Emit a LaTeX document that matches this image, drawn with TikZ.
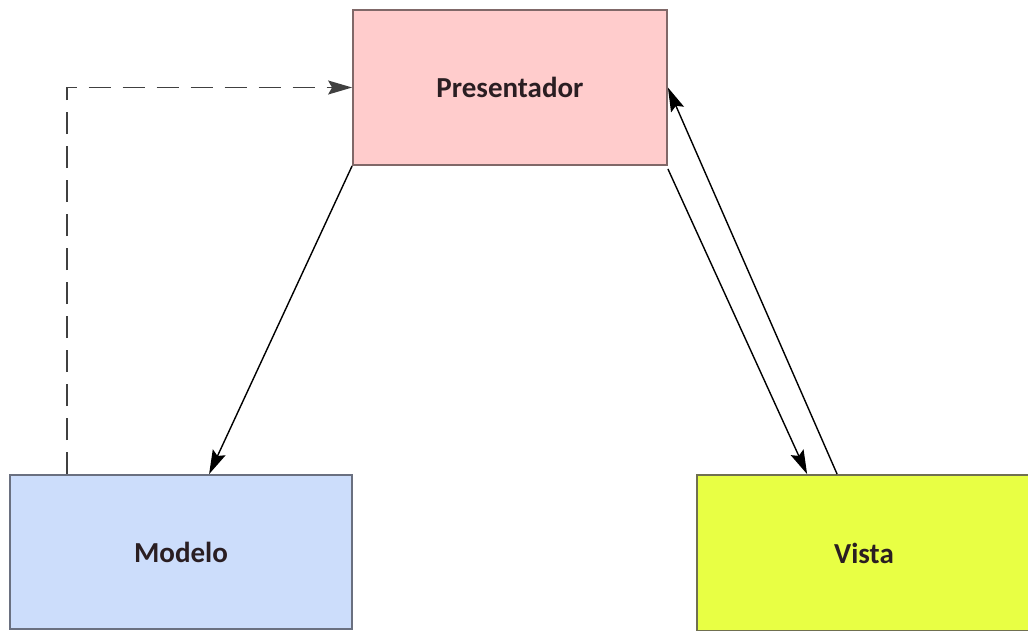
\documentclass[tikz,border=0pt]{standalone}
\usepackage{fontspec}
\setmainfont{Carlito}
\usetikzlibrary{arrows.meta}
\definecolor{presfill}{HTML}{FFCCCC}
\definecolor{presdraw}{HTML}{806868}
\definecolor{modfill}{HTML}{CCDDFB}
\definecolor{moddraw}{HTML}{6A7080}
\definecolor{visfill}{HTML}{E8FF44}
\definecolor{visdraw}{HTML}{707050}
\definecolor{txt}{HTML}{2A1E22}
\tikzset{
  box/.style={draw, line width=1.8pt, minimum width=#1, inner sep=0pt, text=txt, font=\fontsize{29}{34}\selectfont\bfseries},
  link/.style={line width=1.4pt, -{Stealth[length=24pt,width=14pt,inset=4pt]}}
}
\begin{document}
\begin{tikzpicture}[x=1pt,y=-1pt]
            \useasboundingbox (0,0) rectangle (1028,630);
            % cajas
            \node[box=314pt, minimum height=155pt, fill=presfill, draw=presdraw] (pres) at (510,87.5) {Presentador};
            \node[box=342pt, minimum height=154pt, fill=modfill, draw=moddraw] (mod) at (181,552) {Modelo};
            \node[box=334pt, minimum height=156pt, fill=visfill, draw=visdraw] (vis) at (864,553) {Vista};
            % flechas
            \draw[link, dash pattern=on 22pt off 12pt, draw=black!75] ([xshift=58pt]mod.north west) |- (pres.west);
            \draw[link] (pres.south west) -- ([xshift=200pt]mod.north west);
            \draw[link] ([yshift=-3pt]pres.south east) -- ([xshift=111pt]vis.north west);
            \draw[link] ([xshift=141pt]vis.north west) -- (pres.east);
          \end{tikzpicture}
\end{document}
